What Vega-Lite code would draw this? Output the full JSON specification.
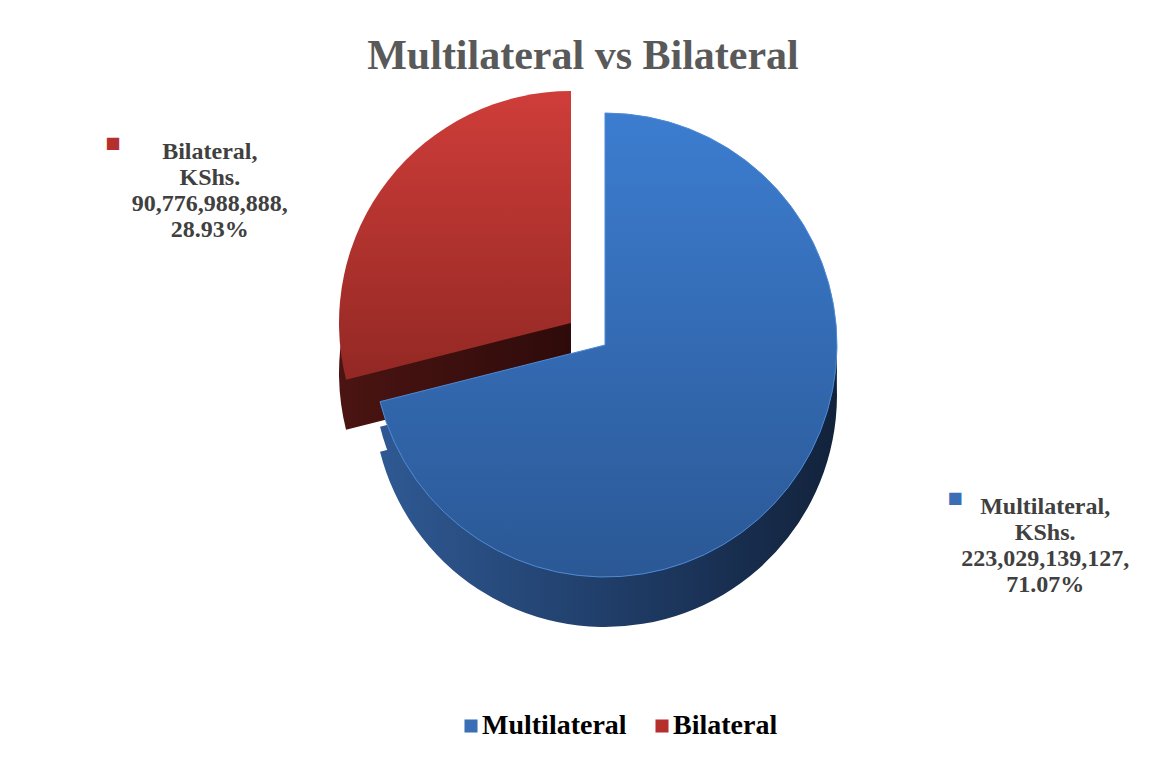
{
  "$schema": "https://vega.github.io/schema/vega-lite/v6.json",
  "width": 1088,
  "height": 510,
  "autosize": {"type": "none"},
  "padding": {"left": 61, "right": 0, "top": 90, "bottom": 163},
  "background": "white",
  "title": {
    "text": "Multilateral vs Bilateral",
    "font": "Liberation Serif",
    "fontSize": 42,
    "fontWeight": "bold",
    "color": "#595959",
    "anchor": "middle",
    "offset": 12,
    "dx": -22
  },
  "data": {
    "values": [
      {"type": "Multilateral", "value": 223029139127, "order": 1, "label": "Multilateral,\nKShs.\n223,029,139,127,\n71.07%"},
      {"type": "Bilateral", "value": 90776988888, "order": 2, "label": "Bilateral,\nKShs.\n90,776,988,888,\n28.93%"}
    ]
  },
  "encoding": {
    "theta": {"field": "value", "type": "quantitative", "stack": true},
    "order": {"field": "order", "type": "quantitative"}
  },
  "layer": [
    {
      "mark": {"type": "arc", "radius": 232, "xOffset": -34, "yOffset": 28,
        "fill": {"gradient": "linear", "x1": 0, "x2": 1, "y1": 0, "y2": 0, "stops": [{"offset": 0, "color": "#4a1412"}, {"offset": 1, "color": "#2e0b0a"}]}},
      "encoding": {"opacity": {"condition": {"test": "datum.type === 'Bilateral'", "value": 1}, "value": 0}}
    },
    {
      "mark": {"type": "arc", "radius": 232, "xOffset": -34, "yOffset": -22,
        "fill": {"gradient": "linear", "x1": 0, "x2": 0, "y1": 0, "y2": 1, "stops": [{"offset": 0, "color": "#cf3d39"}, {"offset": 1, "color": "#932824"}]}},
      "encoding": {"opacity": {"condition": {"test": "datum.type === 'Bilateral'", "value": 1}, "value": 0}}
    },
    {
      "mark": {"type": "arc", "radius": 232, "yOffset": 50,
        "fill": {"gradient": "linear", "x1": 0, "x2": 1, "y1": 0, "y2": 0, "stops": [{"offset": 0, "color": "#2f5993"}, {"offset": 0.6, "color": "#1d3860"}, {"offset": 1, "color": "#12223b"}]}},
      "encoding": {"opacity": {"condition": {"test": "datum.type === 'Multilateral'", "value": 1}, "value": 0}}
    },
    {
      "mark": {"type": "arc", "radius": 232, "yOffset": 25,
        "fill": {"gradient": "linear", "x1": 0, "x2": 1, "y1": 0, "y2": 0, "stops": [{"offset": 0, "color": "#2f5993"}, {"offset": 0.6, "color": "#1d3860"}, {"offset": 1, "color": "#12223b"}]}},
      "encoding": {"opacity": {"condition": {"test": "datum.type === 'Multilateral'", "value": 1}, "value": 0}}
    },
    {
      "mark": {"type": "arc", "radius": 232,
        "fill": {"gradient": "linear", "x1": 0, "x2": 0, "y1": 0, "y2": 1, "stops": [{"offset": 0, "color": "#3c7dd0"}, {"offset": 1, "color": "#2b5895"}]},
        "stroke": "#4f8ad6", "strokeWidth": 1},
      "encoding": {"opacity": {"condition": {"test": "datum.type === 'Multilateral'", "value": 1}, "value": 0}}
    },
    {
      "mark": {"type": "arc", "radius": 0.1, "opacity": 0},
      "encoding": {
        "color": {
          "field": "type", "type": "nominal",
          "scale": {"domain": ["Multilateral", "Bilateral"], "range": ["#3a6fb5", "#b5302d"]},
          "legend": {
            "orient": "none", "legendX": 396, "legendY": 622, "title": null, "direction": "horizontal",
            "symbolType": "square", "symbolSize": 170, "symbolOpacity": 1,
            "labelFont": "Liberation Serif", "labelFontSize": 28, "labelFontWeight": "bold",
            "labelColor": "#000000", "columnPadding": 21, "symbolStrokeWidth": 0, "labelOffset": -3
          }
        }
      }
    },
    {
      "mark": {"type": "text", "clip": true, "radius": 430, "xOffset": -56, "yOffset": 71, "lineBreak": "\n",
        "font": "Liberation Serif", "fontSize": 24, "fontWeight": "bold", "color": "#404040", "align": "center", "lineHeight": 26},
      "encoding": {
        "text": {"field": "label", "type": "nominal"},
        "opacity": {"condition": {"test": "datum.type === 'Bilateral'", "value": 1}, "value": 0}
      }
    },
    {
      "mark": {"type": "text", "clip": true, "radius": 430, "xOffset": 101, "yOffset": -102, "lineBreak": "\n",
        "font": "Liberation Serif", "fontSize": 24, "fontWeight": "bold", "color": "#404040", "align": "center", "lineHeight": 26},
      "encoding": {
        "text": {"field": "label", "type": "nominal"},
        "opacity": {"condition": {"test": "datum.type === 'Multilateral'", "value": 1}, "value": 0}
      }
    },
    {
      "mark": {"type": "text", "clip": true, "radius": 430, "xOffset": -153, "yOffset": 62, "baseline": "middle",
        "font": "DejaVu Sans", "fontSize": 16, "color": "#b5302d"},
      "encoding": {
        "text": {"value": "■"},
        "opacity": {"condition": {"test": "datum.type === 'Bilateral'", "value": 1}, "value": 0}
      }
    },
    {
      "mark": {"type": "text", "clip": true, "radius": 430, "xOffset": 11, "yOffset": -111, "baseline": "middle",
        "font": "DejaVu Sans", "fontSize": 16, "color": "#3a6fb5"},
      "encoding": {
        "text": {"value": "■"},
        "opacity": {"condition": {"test": "datum.type === 'Multilateral'", "value": 1}, "value": 0}
      }
    }
  ],
  "config": {"view": {"stroke": null}}
}
